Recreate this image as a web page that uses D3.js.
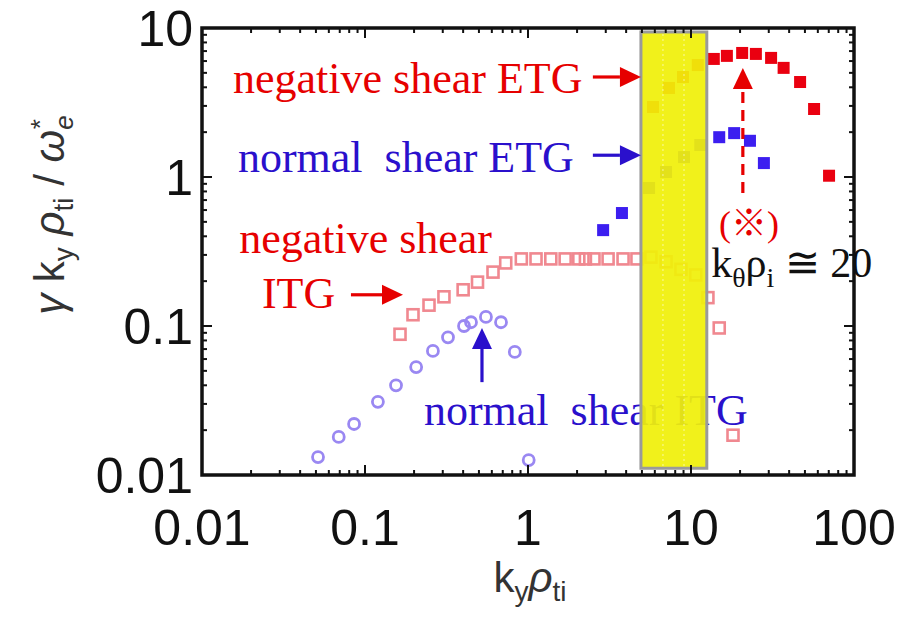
<!DOCTYPE html>
<html><head><meta charset="utf-8">
<script src="https://cdn.jsdelivr.net/npm/d3@7"></script>
<style>body{margin:0;background:#fff}svg{display:block}text{white-space:pre}</style>
</head><body><svg id="c" width="898" height="617"></svg>
<script>
// ---------- data ----------
const xTickValues = [0.01, 0.1, 1, 10, 100];
const xTickLabels = ["0.01", "0.1", "1", "10", "100"];
const yTickValues = [0.01, 0.1, 1, 10];
const yTickLabels = ["0.01", "0.1", "1", "10"];

// negative shear ETG (filled red squares)
const negEtgK = [5.85, 7.33, 8.93, 11.0, 13.8, 16.6, 20.6, 25, 31, 37, 46.7, 56.9, 70.3];
const negEtgG = [2.95, 3.96, 4.69, 5.64, 6.2, 6.5, 6.8, 6.7, 6.3, 5.4, 4.34, 2.86, 1.02];

// normal shear ETG (filled blue squares)
const normEtgK = [2.89, 3.77, 5.53, 7.03, 9.06, 11.4, 14.9, 18.4, 23, 28];
const normEtgG = [0.44, 0.573, 0.844, 1.08, 1.36, 1.64, 1.85, 1.97, 1.75, 1.24];

// negative shear ITG (open pink squares)
const negItgK = [0.164, 0.197, 0.247, 0.305, 0.40, 0.49, 0.61, 0.73, 0.91, 1.12, 1.38, 1.69, 2.05, 2.25, 2.54, 3.1, 3.83, 4.66, 5.68, 7.03, 8.68, 10.7, 12.7, 14.9, 18.1];
const negItgG = [0.088, 0.119, 0.138, 0.157, 0.175, 0.197, 0.23, 0.265, 0.282, 0.282, 0.282, 0.282, 0.282, 0.282, 0.282, 0.282, 0.282, 0.282, 0.29, 0.27, 0.24, 0.22, 0.155, 0.097, 0.0185];

// normal shear ITG (open blue circles)
const normItgK = [0.0515, 0.069, 0.0857, 0.12, 0.155, 0.206, 0.261, 0.323, 0.405, 0.447, 0.552, 0.683, 0.83, 1.01];
const normItgG = [0.0132, 0.018, 0.022, 0.031, 0.040, 0.053, 0.068, 0.084, 0.10, 0.106, 0.115, 0.106, 0.067, 0.0126];

// highlighted band (k range, gamma range)
const bandK = [4.93, 12.5];
const bandG = [0.0111, 9.4];
const bandLinesK = [6.73, 9.06];

// ---------- setup ----------
const svg = d3.select("#c");
const x = d3.scaleLog().domain([0.01, 100]).range([202, 854]);
const y = d3.scaleLog().domain([0.01, 10]).range([475, 28]);

const RED = "#e60000", BLUE = "#2a10cc", SERIF = "Liberation Serif, 'Times New Roman', serif";
const SANS = "Liberation Sans, Arial, sans-serif";

svg.append("rect").attr("width", 898).attr("height", 617).attr("fill", "#fff");

const zip = (a, b) => a.map((v, i) => [v, b[i]]);

// normal shear ITG: open circles
svg.append("g").selectAll("circle").data(zip(normItgK, normItgG)).join("circle")
  .attr("cx", d => x(d[0])).attr("cy", d => y(d[1])).attr("r", 5.5)
  .attr("fill", "none").attr("stroke", "#9a88f2").attr("stroke-width", 2.8);

// negative shear ITG: open squares
const s1 = 11;
svg.append("g").selectAll("rect").data(zip(negItgK, negItgG)).join("rect")
  .attr("x", d => x(d[0]) - s1 / 2).attr("y", d => y(d[1]) - s1 / 2)
  .attr("width", s1).attr("height", s1)
  .attr("fill", "none").attr("stroke", "#f08890").attr("stroke-width", 2.6);

// ETG filled squares
const s2 = 12;
svg.append("g").selectAll("rect").data(zip(normEtgK, normEtgG)).join("rect")
  .attr("x", d => x(d[0]) - s2 / 2).attr("y", d => y(d[1]) - s2 / 2)
  .attr("width", s2).attr("height", s2).attr("fill", "#3c1ef0");
svg.append("g").selectAll("rect").data(zip(negEtgK, negEtgG)).join("rect")
  .attr("x", d => x(d[0]) - s2 / 2).attr("y", d => y(d[1]) - s2 / 2)
  .attr("width", s2).attr("height", s2).attr("fill", "#ea0010");

// ---------- annotations text ----------
function label(txt, k, g, color, size, anchor) {
  return svg.append("text").attr("x", x(k)).attr("y", y(g))
    .attr("font-family", SERIF).attr("font-size", size).attr("fill", color)
    .attr("text-anchor", anchor || "start").text(txt);
}
label("negative shear ETG", 0.0155, 3.66, RED, 44);
label("normal  shear ETG", 0.0166, 1.08, BLUE, 44);
label("negative shear", 0.0169, 0.309, RED, 44);
label("ITG", 0.0233, 0.132, RED, 44);
label("normal  shear ITG", 0.230, 0.0217, BLUE, 44);

// ---------- band ----------
svg.append("rect")
  .attr("x", x(bandK[0])).attr("y", y(bandG[1]))
  .attr("width", x(bandK[1]) - x(bandK[0])).attr("height", y(bandG[0]) - y(bandG[1]))
  .attr("fill", "#f0f00a").attr("fill-opacity", 0.93)
  .attr("stroke", "#9a9a9a").attr("stroke-width", 3);
svg.append("g").selectAll("line").data(bandLinesK).join("line")
  .attr("x1", d => x(d)).attr("x2", d => x(d))
  .attr("y1", y(bandG[1]) + 2).attr("y2", y(bandG[0]) - 2)
  .attr("stroke", "#fff").attr("stroke-opacity", 0.6).attr("stroke-width", 1)
  .attr("stroke-dasharray", "2,3");

// ---------- arrows ----------
function arrow(k1, g1, k2, g2, color, dash) {
  const X1 = x(k1), Y1 = y(g1), X2 = x(k2), Y2 = y(g2);
  const L = 21, Wd = 10;
  const ang = Math.atan2(Y2 - Y1, X2 - X1);
  const bx = X2 - L * Math.cos(ang), by = Y2 - L * Math.sin(ang);
  svg.append("line").attr("x1", X1).attr("y1", Y1).attr("x2", bx).attr("y2", by)
    .attr("stroke", color).attr("stroke-width", 3.2)
    .attr("stroke-dasharray", dash || null);
  const px = -Math.sin(ang) * Wd, py = Math.cos(ang) * Wd;
  svg.append("path")
    .attr("d", `M${X2},${Y2}L${bx + px},${by + py}L${bx - px},${by - py}Z`)
    .attr("fill", color);
}
arrow(2.5, 4.69, 4.93, 4.69, RED);
arrow(2.5, 1.40, 4.93, 1.40, BLUE);
arrow(0.082, 0.162, 0.171, 0.162, RED);
arrow(0.522, 0.042, 0.522, 0.097, BLUE);
arrow(20.8, 0.78, 20.8, 5.39, RED, "11,7");

// (※) and k_theta rho_i ~ 20
svg.append("text").attr("x", x(22.7)).attr("y", y(0.40))
  .attr("font-family", "Liberation Serif, 'Noto Sans CJK JP', serif").attr("font-size", 36)
  .attr("fill", RED).attr("text-anchor", "middle").text("(※)");

const kt = svg.append("text").attr("x", x(13.3)).attr("y", y(0.213))
  .attr("font-family", SERIF).attr("font-size", 42).attr("fill", "#111");
kt.append("tspan").text("k");
kt.append("tspan").attr("font-size", 28).attr("dy", 10).text("θ");
kt.append("tspan").attr("dy", -10).text("ρ");
kt.append("tspan").attr("font-size", 28).attr("dy", 10).text("i");
kt.append("tspan").attr("dy", -10).text(" ≅ 20");

// ---------- frame + ticks ----------
const minorX = [], minorY = [];
[0.01, 0.1, 1, 10].forEach(d => { for (let m = 2; m <= 9; m++) minorX.push(d * m); });
[0.01, 0.1, 1].forEach(d => { for (let m = 2; m <= 9; m++) minorY.push(d * m); });

const tk = svg.append("g").attr("stroke", "#111").attr("stroke-width", 2);
const [x0, x1] = x.range(), [yb, yt] = y.range();
function ticksX(vals, len) {
  tk.append("g").selectAll("line").data(vals).join("line")
    .attr("x1", d => x(d)).attr("x2", d => x(d)).attr("y1", yb).attr("y2", yb - len);
  tk.append("g").selectAll("line").data(vals).join("line")
    .attr("x1", d => x(d)).attr("x2", d => x(d)).attr("y1", yt).attr("y2", yt + len);
}
function ticksY(vals, len) {
  tk.append("g").selectAll("line").data(vals).join("line")
    .attr("y1", d => y(d)).attr("y2", d => y(d)).attr("x1", x0).attr("x2", x0 + len);
  tk.append("g").selectAll("line").data(vals).join("line")
    .attr("y1", d => y(d)).attr("y2", d => y(d)).attr("x1", x1).attr("x2", x1 - len);
}
ticksX(xTickValues, 10); ticksX(minorX, 5);
ticksY(yTickValues, 10); ticksY(minorY, 5);

svg.append("rect").attr("x", x0).attr("y", yt).attr("width", x1 - x0).attr("height", yb - yt)
  .attr("fill", "none").attr("stroke", "#111").attr("stroke-width", 3.5);

// tick labels
svg.append("g").selectAll("text").data(xTickValues).join("text")
  .attr("x", d => x(d)).attr("y", 545).attr("text-anchor", "middle")
  .attr("font-family", SANS).attr("font-size", 50).attr("fill", "#111")
  .text((d, i) => xTickLabels[i]);
svg.append("g").selectAll("text").data(yTickValues).join("text")
  .attr("x", 193).attr("y", d => y(d) + 18).attr("text-anchor", "end")
  .attr("font-family", SANS).attr("font-size", 50).attr("fill", "#111")
  .text((d, i) => yTickLabels[i]);

// axis titles
const xt = svg.append("text").attr("x", 530).attr("y", 592).attr("text-anchor", "middle")
  .attr("font-family", SANS).attr("font-size", 42).attr("fill", "#333");
xt.append("tspan").text("k");
xt.append("tspan").attr("font-size", 28).attr("dy", 9).text("y");
xt.append("tspan").attr("dy", -9).attr("font-style", "italic").text("ρ");
xt.append("tspan").attr("font-size", 28).attr("dy", 9).text("ti");

const yt2 = svg.append("text").attr("transform", "translate(64,215) rotate(-90)")
  .attr("text-anchor", "middle").attr("font-family", SANS).attr("font-size", 42).attr("fill", "#333");
yt2.append("tspan").attr("font-style", "italic").text("γ");
yt2.append("tspan").text(" k");
yt2.append("tspan").attr("font-size", 28).attr("dy", 9).text("y");
yt2.append("tspan").attr("dy", -9).attr("font-style", "italic").text(" ρ");
yt2.append("tspan").attr("font-size", 28).attr("dy", 9).text("ti");
yt2.append("tspan").attr("dy", -9).text(" / ");
yt2.append("tspan").attr("font-style", "italic").text("ω");
yt2.append("tspan").attr("font-size", 26).attr("dy", 9).attr("font-style", "italic").text("e");
yt2.append("tspan").attr("font-size", 26).attr("dy", -24).attr("dx", -14).text("*");
</script></body></html>
